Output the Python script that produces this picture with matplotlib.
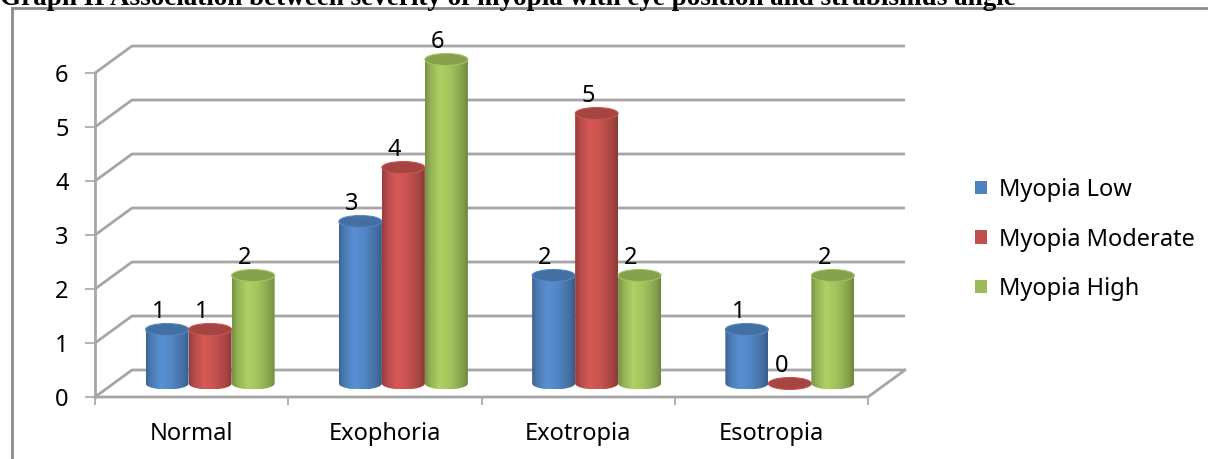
import numpy as np
import matplotlib.pyplot as plt
from matplotlib.patches import Ellipse, Polygon, Patch
from matplotlib.lines import Line2D
from matplotlib.colors import to_rgb

# chart data
categories = ['Normal', 'Exophoria', 'Exotropia', 'Esotropia']
series_names = ['Myopia Low', 'Myopia Moderate', 'Myopia High']
myopia_low = [1, 3, 2, 1]
myopia_moderate = [1, 4, 5, 0]
myopia_high = [2, 6, 2, 2]
y_ticks = [0, 1, 2, 3, 4, 5, 6]
title = 'Graph II Association between severity of myopia with eye position and strabismus angle'

colors = ['#4F81BD', '#C0504D', '#9BBB59']
grid_col = '#a6a6a6'

plt.rcParams['font.family'] = ['Noto Sans', 'DejaVu Sans']
FS = 17

W, H = 1208, 459
YTOP = 7  # headroom so the tallest cylinder is not clipped
fig = plt.figure(figsize=(W / 100, H / 100), dpi=100)
ax = fig.add_axes([95 / W, (H - 397) / H, (868 - 95) / W, (54 * YTOP) / H])
ax.set_xlim(0, len(categories))
ax.set_ylim(0, YTOP)
for s in ax.spines.values():
    s.set_visible(False)

# pseudo 3d depth (data units)
dx = 37 / 193.25
dy = 0.5

# side wall + back wall gridlines
for v in y_ticks:
    ax.plot([0, dx, len(categories) + dx], [v, v + dy, v + dy], color=grid_col, lw=2,
            clip_on=False, zorder=1, solid_capstyle='butt')
# floor front / right edge and y axis
ax.plot([0, len(categories), len(categories) + dx], [0, 0, dy], color=grid_col, lw=2,
        clip_on=False, zorder=1)
ax.plot([0, 0], [0, 6], color=grid_col, lw=2, clip_on=False, zorder=1)

# cylinders
w = 43 / 193.25
eh = 12 / 54
u = np.linspace(0, 1, 60)
shade = np.interp(u, [0, 0.12, 0.35, 0.6, 0.88, 1], [0.78, 0.95, 1.12, 1.04, 0.86, 0.72])

series = [myopia_low, myopia_moderate, myopia_high]
for i, cat in enumerate(categories):
    for j, vals in enumerate(series):
        v = vals[i]
        base = np.array(to_rgb(colors[j]))
        x0 = i + 0.5 - 1.5 * w + j * w + dx / 2
        x1 = x0 + w
        xc = (x0 + x1) / 2
        b = dy / 2
        t = v + dy / 2
        th = np.linspace(np.pi, 2 * np.pi, 40)
        arc = np.column_stack([xc + w / 2 * np.cos(th), b + eh / 2 * np.sin(th)])
        pts = np.vstack([[x0, t], arc, [x1, t]])
        poly = Polygon(pts, closed=True, facecolor='none', edgecolor='none', transform=ax.transData)
        ax.add_patch(poly)
        img = np.clip(base[None, None, :] * shade[None, :, None], 0, 1)
        im = ax.imshow(img, extent=[x0, x1, b - eh / 2, t], aspect='auto', origin='lower',
                       zorder=3 + j, interpolation='bilinear')
        im.set_clip_path(poly)
        top = Ellipse((xc, t), w, eh, facecolor=np.clip(base * 0.86, 0, 1),
                      edgecolor=np.clip(base * 1.05, 0, 1), lw=0.8, zorder=3 + j + 0.5)
        ax.add_patch(top)
        ax.text(xc - 0.045, t + 0.33, str(v), ha='center', va='center', fontsize=FS, zorder=10)

ax.set_xlim(0, len(categories))
ax.set_ylim(0, YTOP)

ax.set_yticks(y_ticks)
ax.set_xticks(range(len(categories) + 1))
ax.set_xticklabels([])
ax.set_xticks([i + 0.5 for i in range(len(categories))], minor=True)
ax.set_xticklabels(categories, minor=True, fontsize=FS)
ax.tick_params(axis='x', which='major', length=6, width=1.2, color=grid_col, direction='out')
ax.tick_params(axis='x', which='minor', length=0, pad=18)
ax.tick_params(axis='y', length=7, width=1.2, color=grid_col, pad=12, labelsize=FS)

handles = [Patch(facecolor=c, edgecolor='none') for c in colors]
fig.legend(handles, series_names, loc='upper left', bbox_to_anchor=(975 / W, 1 - 178 / H),
           frameon=False, fontsize=FS, handlelength=0.5, handleheight=0.5,
           handletextpad=0.5, labelspacing=1.08, borderaxespad=0, borderpad=0)

# outer frame and clipped title
fig.add_artist(Line2D([11.5 / W, 11.5 / W], [0, 1 - 8 / H], color='#8c8c8c', lw=2))
fig.add_artist(Line2D([11.5 / W, 1], [1 - 8 / H, 1 - 8 / H], color='#8c8c8c', lw=2))
fig.text(0, 1 - 5 / H, title, fontweight='bold', family='Liberation Serif', fontsize=19.5,
         va='baseline', ha='left')

fig.savefig('out.png', dpi=100)
